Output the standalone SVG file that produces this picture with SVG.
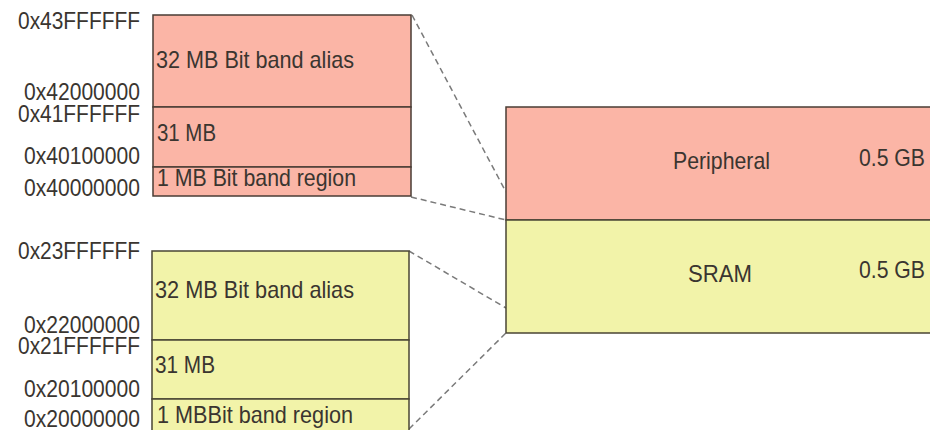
<svg xmlns="http://www.w3.org/2000/svg" width="930" height="430" viewBox="0 0 930 430">
<style>
text{font-family:"Liberation Sans",Arial,sans-serif;font-size:24px;fill:#3a3530}
.pink{fill:#FBB5A6;stroke:#4a3d35;stroke-width:1.5}
.yel{fill:#F2F3A9;stroke:#4a4535;stroke-width:1.5}
.dash{stroke:#7a7a7a;stroke-width:1.5;stroke-dasharray:6,4;fill:none}
</style>
<rect width="930" height="430" fill="#ffffff"/>
<g id="connectors">
<line class="dash" x1="412" y1="15" x2="506" y2="192"/>
<line class="dash" x1="411" y1="197" x2="506" y2="220"/>
<line class="dash" x1="409" y1="251" x2="506" y2="308"/>
<line class="dash" x1="409" y1="429" x2="506" y2="333"/>
</g>
<g id="peripheral-bitband">
<rect class="pink" x="153" y="15" width="258" height="92"/>
<rect class="pink" x="153" y="107" width="258" height="60"/>
<rect class="pink" x="153" y="167" width="258" height="29"/>
<text x="156" y="68" textLength="198" lengthAdjust="spacingAndGlyphs">32 MB Bit band alias</text>
<text x="157" y="141" textLength="59" lengthAdjust="spacingAndGlyphs">31 MB</text>
<text x="157" y="186" textLength="199" lengthAdjust="spacingAndGlyphs">1 MB Bit band region</text>
<text x="18" y="29" textLength="122" lengthAdjust="spacingAndGlyphs">0x43FFFFFF</text>
<text x="24" y="100" textLength="116" lengthAdjust="spacingAndGlyphs">0x42000000</text>
<text x="18" y="122" textLength="122" lengthAdjust="spacingAndGlyphs">0x41FFFFFF</text>
<text x="24" y="164" textLength="116" lengthAdjust="spacingAndGlyphs">0x40100000</text>
<text x="24" y="196" textLength="116" lengthAdjust="spacingAndGlyphs">0x40000000</text>
</g>
<g id="sram-bitband">
<rect class="yel" x="152" y="251" width="257" height="89"/>
<rect class="yel" x="152" y="340" width="257" height="59"/>
<rect class="yel" x="152" y="399" width="257" height="35"/>
<text x="155" y="298" textLength="199" lengthAdjust="spacingAndGlyphs">32 MB Bit band alias</text>
<text x="155" y="373" textLength="60" lengthAdjust="spacingAndGlyphs">31 MB</text>
<text x="157" y="423" textLength="196" lengthAdjust="spacingAndGlyphs">1 MBBit band region</text>
<text x="18" y="259" textLength="122" lengthAdjust="spacingAndGlyphs">0x23FFFFFF</text>
<text x="24" y="333" textLength="116" lengthAdjust="spacingAndGlyphs">0x22000000</text>
<text x="18" y="354" textLength="122" lengthAdjust="spacingAndGlyphs">0x21FFFFFF</text>
<text x="24" y="397" textLength="116" lengthAdjust="spacingAndGlyphs">0x20100000</text>
<text x="24" y="427" textLength="116" lengthAdjust="spacingAndGlyphs">0x20000000</text>
</g>
<g id="peripheral">
<rect class="pink" x="506" y="107" width="440" height="113"/>
<text x="673" y="169" textLength="97" lengthAdjust="spacingAndGlyphs">Peripheral</text>
<text x="859" y="166" textLength="66" lengthAdjust="spacingAndGlyphs">0.5 GB</text>
</g>
<g id="sram">
<rect class="yel" x="506" y="220" width="440" height="113"/>
<text x="688" y="282" textLength="64" lengthAdjust="spacingAndGlyphs">SRAM</text>
<text x="859" y="278" textLength="66" lengthAdjust="spacingAndGlyphs">0.5 GB</text>
</g>
</svg>
